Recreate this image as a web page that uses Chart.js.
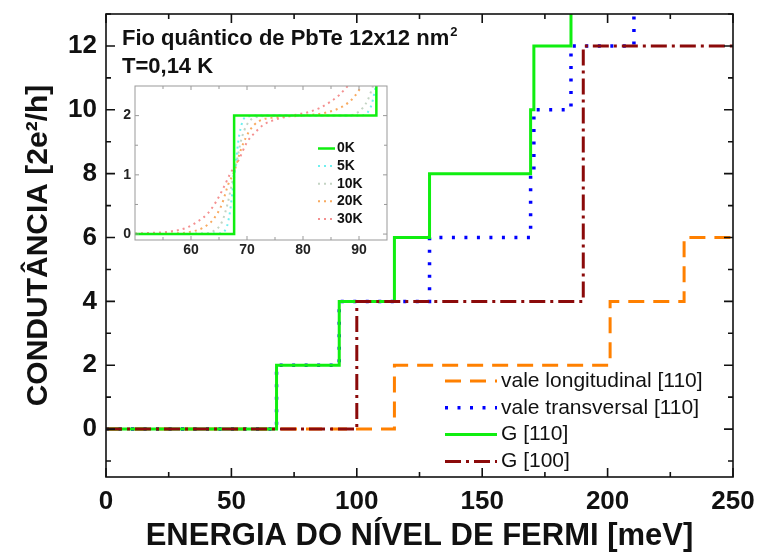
<!DOCTYPE html>
<html>
<head>
<meta charset="utf-8">
<script src="https://cdn.jsdelivr.net/npm/chart.js@4.4.1/dist/chart.umd.min.js"></script>
<style>
  html, body { margin: 0; padding: 0; background: #fff; }
  #wrap { position: relative; width: 758px; height: 553px; }
  #main { position: absolute; left: 0; top: 0; }
  #inset { position: absolute; left: 105px; top: 80px; }
</style>
</head>
<body>
<div id="wrap">
  <canvas id="main" width="758" height="553"></canvas>
  <canvas id="inset" width="290" height="182"></canvas>
</div>
<script>
Chart.defaults.animation = false;
Chart.defaults.font.family = '"Liberation Sans", Arial, sans-serif';
Chart.defaults.color = '#111';

// Main plot: conductance (2e^2/h) vs Fermi energy (meV).
// Each pair = energy where a step happens, level reached there.
const longE  = [0, 115, 201, 230.5, 250];
const longG  = [0, 2, 4, 6, 6];
const transE = [0, 68, 93, 129, 169.3, 170.6, 185.4, 210.5, 250];
const transG = [0, 2, 4, 6, 8, 10, 12, 16, 16];
const g110E  = [0, 68, 93, 115, 129, 169.3, 170.6, 185.4, 250];
const g110G  = [0, 2, 4, 6, 8, 10, 12, 14, 14];
const g100E  = [0, 100, 190.3, 250];
const g100G  = [0, 4, 12, 12];

const xMajor = [0, 50, 100, 150, 200, 250];
const xMinor = [25, 75, 125, 175, 225];
const yMajor = [0, 2, 4, 6, 8, 10, 12];
const yMinor = [-1, 1, 3, 5, 7, 9, 11, 13];

// Inset: first plateau, thermal smearing
const e0K  = [50, 67.7, 93.1];
const g0K  = [0, 2, 4];
const e5K  = [50, 65, 66.3, 67, 67.5, 68, 68.5, 69.2, 70, 72, 90, 91.5, 92.3, 93];
const g5K  = [0, 0.01, 0.1, 0.4, 0.8, 1.2, 1.6, 1.9, 1.98, 2, 2, 2.05, 2.2, 2.5];
const e10K = [50, 62, 64, 65.5, 66.5, 67.3, 68, 69, 70, 71.5, 75, 88, 90, 91.5, 92.5];
const g10K = [0, 0.01, 0.05, 0.2, 0.5, 0.85, 1.15, 1.6, 1.85, 1.97, 2, 2, 2.07, 2.25, 2.5];
const e20K = [50, 57, 60, 62, 64, 65.5, 66.7, 67.7, 69, 70.5, 72, 75, 80, 84, 87, 89, 90.5];
const g20K = [0, 0.01, 0.04, 0.1, 0.25, 0.5, 0.85, 1.05, 1.45, 1.75, 1.9, 1.97, 2, 2.05, 2.15, 2.3, 2.5];
const e30K = [50, 53, 56, 59, 61, 63, 64.5, 66, 67, 68.5, 70, 71.5, 73, 75, 77, 79, 81, 83, 85, 86.5, 88];
const g30K = [0.01, 0.02, 0.04, 0.1, 0.2, 0.35, 0.55, 0.82, 1.02, 1.25, 1.55, 1.72, 1.85, 1.93, 1.98, 2.02, 2.06, 2.13, 2.24, 2.35, 2.5];

const insetXMajor = [60, 70, 80, 90];
const insetXMinor = [55, 65, 75, 85];
const insetYMajor = [0, 1, 2];
const insetYMinor = [0.5, 1.5];

const pts = (xs, ys) => xs.map((x, i) => ({ x, y: ys[i] }));

// fixed axis sizes, no extra room for overhanging labels
const fixX = h => s => { s.height = h; s.paddingLeft = 0; s.paddingRight = 0; };
const fixY = w => s => { s.width = w; s.paddingTop = 0; s.paddingBottom = 0; };

// inward ticks on all four sides plus the frame
function frameTicks(o) {
  return {
    id: 'frameTicks',
    afterDatasetsDraw(chart) {
      const { ctx, chartArea: a } = chart;
      const xs = chart.scales.x, ys = chart.scales.y;
      ctx.save();
      ctx.strokeStyle = o.color;
      ctx.lineWidth = o.width;
      ctx.beginPath();
      const vt = (v, len) => {
        const px = xs.getPixelForValue(v);
        ctx.moveTo(px, a.bottom); ctx.lineTo(px, a.bottom - len);
        ctx.moveTo(px, a.top); ctx.lineTo(px, a.top + len);
      };
      const ht = (v, len) => {
        const py = ys.getPixelForValue(v);
        ctx.moveTo(a.left, py); ctx.lineTo(a.left + len, py);
        ctx.moveTo(a.right, py); ctx.lineTo(a.right - len, py);
      };
      o.xMajor.forEach(v => vt(v, o.major));
      o.xMinor.forEach(v => vt(v, o.minor));
      o.yMajor.forEach(v => ht(v, o.major));
      o.yMinor.forEach(v => ht(v, o.minor));
      ctx.stroke();
      ctx.strokeRect(a.left, a.top, a.right - a.left, a.bottom - a.top);
      ctx.restore();
    }
  };
}

// legend drawn from the datasets' own styles
function sampleLegend(o) {
  return {
    id: 'sampleLegend',
    afterDraw(chart) {
      const ctx = chart.ctx;
      ctx.save();
      ctx.font = o.font;
      ctx.fillStyle = '#111';
      ctx.textBaseline = 'middle';
      o.order.forEach((di, i) => {
        const ds = chart.data.datasets[di];
        const y = o.y0 + i * o.dy;
        ctx.save();
        ctx.strokeStyle = ds.borderColor;
        ctx.lineWidth = ds.borderWidth;
        ctx.setLineDash(ds.borderDash || []);
        ctx.beginPath();
        ctx.moveTo(o.x0, y);
        ctx.lineTo(o.x1, y);
        ctx.stroke();
        ctx.restore();
        ctx.fillText(ds.label, o.tx, y);
      });
      ctx.restore();
    }
  };
}

const mainNote = {
  id: 'mainNote',
  afterDraw(chart) {
    const ctx = chart.ctx;
    ctx.save();
    ctx.fillStyle = '#111';
    ctx.font = 'bold 22px "Liberation Sans", Arial, sans-serif';
    const line1 = 'Fio quântico de PbTe 12x12 nm';
    ctx.fillText(line1, 122, 45);
    const w = ctx.measureText(line1).width;
    ctx.font = 'bold 13px "Liberation Sans", Arial, sans-serif';
    ctx.fillText('2', 122 + w + 1, 36);
    ctx.font = 'bold 22px "Liberation Sans", Arial, sans-serif';
    ctx.fillText('T=0,14 K', 122, 73);
    ctx.restore();
  }
};

new Chart(document.getElementById('main'), {
  type: 'line',
  data: {
    datasets: [
      { label: 'vale longitudinal [110]', data: pts(longE, longG), stepped: 'before',
        borderColor: '#ff8000', borderWidth: 3, borderDash: [16, 9], order: 3 },
      { label: 'vale transversal [110]', data: pts(transE, transG), stepped: 'before',
        borderColor: '#0000ff', borderWidth: 3.5, borderDash: [3, 9.5], order: 2 },
      { label: 'G [110]', data: pts(g110E, g110G), stepped: 'before',
        borderColor: '#10ee10', borderWidth: 3, order: 1 },
      { label: 'G [100]', data: pts(g100E, g100G), stepped: 'before',
        borderColor: '#8b0a0a', borderWidth: 3, borderDash: [16, 5, 3, 5], order: 0 }
    ]
  },
  options: {
    responsive: false,
    animation: false,
    events: [],
    layout: { padding: { left: 0, right: 25, top: 14, bottom: 0 } },
    elements: { point: { radius: 0 }, line: { fill: false } },
    plugins: { legend: { display: false }, tooltip: { enabled: false } },
    scales: {
      x: {
        type: 'linear', min: 0, max: 250,
        afterBuildTicks: s => { s.ticks = xMajor.map(v => ({ value: v })); },
        afterFit: fixX(76),
        grid: { display: false, drawTicks: false },
        border: { display: false },
        ticks: { font: { size: 26, weight: 'bold' }, padding: 9, maxRotation: 0, autoSkip: false },
        title: { display: true, text: 'ENERGIA DO NÍVEL DE FERMI [meV]',
                 font: { size: 31, weight: 'bold', lineHeight: 1 }, padding: { top: 0, bottom: 1 } }
      },
      y: {
        type: 'linear', min: -1.5, max: 13,
        afterBuildTicks: s => { s.ticks = yMajor.map(v => ({ value: v })); },
        afterFit: fixY(106),
        grid: { display: false, drawTicks: false },
        border: { display: false },
        ticks: { font: { size: 26, weight: 'bold' }, padding: 9 },
        title: { display: true, text: 'CONDUTÂNCIA [2e²/h]',
                 font: { size: 30, weight: 'bold', lineHeight: 1 }, padding: { top: 24, bottom: 0 } }
      }
    }
  },
  plugins: [
    frameTicks({ color: '#111', width: 1.6, major: 9, minor: 5, xMajor, xMinor, yMajor, yMinor }),
    sampleLegend({ order: [0, 1, 2, 3], x0: 445, x1: 497, tx: 501, y0: 381, dy: 26.8,
                   font: '21px "Liberation Sans", Arial, sans-serif' }),
    mainNote
  ]
});

const insetBg = {
  id: 'insetBg',
  beforeDraw(chart) {
    const { ctx, chartArea: a } = chart;
    ctx.save();
    ctx.fillStyle = '#fff';
    ctx.fillRect(a.left, a.top, a.right - a.left, a.bottom - a.top);
    ctx.restore();
  }
};

const dotted = (label, xs, ys, color) => ({
  label, data: pts(xs, ys), borderColor: color, borderWidth: 2, borderDash: [2, 4],
  cubicInterpolationMode: 'monotone'
});

new Chart(document.getElementById('inset'), {
  type: 'line',
  data: {
    datasets: [
      { label: '0K', data: pts(e0K, g0K), stepped: 'before', borderColor: '#10ee10', borderWidth: 2.5 },
      dotted('5K', e5K, g5K, '#6ff0f0'),
      dotted('10K', e10K, g10K, '#c4d4c4'),
      dotted('20K', e20K, g20K, '#f8aa60'),
      dotted('30K', e30K, g30K, '#f49090')
    ]
  },
  options: {
    responsive: false,
    animation: false,
    events: [],
    layout: { padding: { left: 0, right: 8, top: 6, bottom: 0 } },
    elements: { point: { radius: 0 }, line: { fill: false } },
    plugins: { legend: { display: false }, tooltip: { enabled: false } },
    scales: {
      x: {
        type: 'linear', min: 50, max: 95,
        afterBuildTicks: s => { s.ticks = insetXMajor.map(v => ({ value: v })); },
        afterFit: fixX(22),
        grid: { display: false, drawTicks: false },
        border: { display: false },
        ticks: { font: { size: 14, weight: 'bold' }, padding: 2, maxRotation: 0, autoSkip: false, color: '#222' }
      },
      y: {
        type: 'linear', min: -0.1, max: 2.5,
        afterBuildTicks: s => { s.ticks = insetYMajor.map(v => ({ value: v })); },
        afterFit: fixY(30),
        grid: { display: false, drawTicks: false },
        border: { display: false },
        ticks: { font: { size: 14, weight: 'bold' }, padding: 4, color: '#222' }
      }
    }
  },
  plugins: [
    insetBg,
    frameTicks({ color: '#999', width: 1, major: 4, minor: 3,
                 xMajor: insetXMajor, xMinor: insetXMinor, yMajor: insetYMajor, yMinor: insetYMinor }),
    sampleLegend({ order: [0, 1, 2, 3, 4], x0: 213, x1: 230, tx: 232, y0: 68.5, dy: 17.6,
                   font: 'bold 14px "Liberation Sans", Arial, sans-serif' })
  ]
});
</script>
</body>
</html>
